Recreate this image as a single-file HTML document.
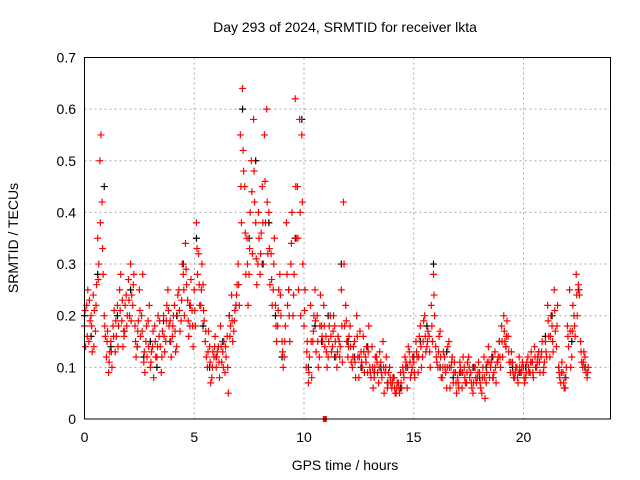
<!DOCTYPE html>
<html><head><meta charset="utf-8"><style>
body{margin:0;background:#fff}
svg{display:block;font-family:"Liberation Sans",sans-serif}
</style></head><body>
<svg id="chart" width="640" height="480">
<text x="345" y="32" font-size="14" text-anchor="middle">Day 293 of 2024, SRMTID for receiver lkta</text>
<text x="18" y="238" font-size="14" text-anchor="middle" transform="rotate(-90 18 238)">SRMTID / TECUs</text>
<text x="345" y="470" font-size="14" text-anchor="middle">GPS time / hours</text>
<g id="grid"></g><g id="marks"></g>
<rect x="84.5" y="57.5" width="526" height="361.5" fill="none" stroke="#000"/>
</svg>
<script>
const xTicks=[0,5,10,15,20];
const yTicks=[0,0.1,0.2,0.3,0.4,0.5,0.6,0.7];
const redA=[.18,.22,.15,.20,.24,.17,.35,.50,.42,.20,.12,.09,.15,.18,.13,.22,.25,.19,.16,.24,.27,.30,.22,.18,.14,.25,.20,.11,.15,.19,.10,.14,.18,.12,.16,.09,.20,.15,.25,.19,.16,.22,.14,.25,.19,.28,.34,.23,.18,.21,.25,.38,.32,.22,.26,.15,.10,.14,.08,.12,.10,.14,.18,.13,.09,.16,.20,.24,.17,.22,.30,.55,.64,.45,.35,.28,.50,.58,.38,.30,.28,.45,.55,.60,.40,.32,.25,.22,.18,.28,.15,.12,.38,.25,.30,.20,.62,.45,.58,.55,.18,.10,.07,.22,.15,.25,.20,.12,.18,.22,.16,.12,.20,.14,.18,.10,.15,.25,.42,.22,.12,.18,.10,.15,.20,.08,.13,.16,.12,.09,.10,.14,.08,.12,.07,.11,.15,.09,.06,.10,.06,.08,.05,.07,.09,.10,.12,.06,.13,.09,.11,.15,.09,.18,.12,.20,.14,.16,.22,.28,.14,.10,.17,.08,.12,.06,.15,.10,.07,.09,.08,.11,.06,.10,.07,.12,.09,.05,.10,.08,.09,.05,.12,.07,.14,.10,.08,.13,.11,.15,.18,.20,.14,.16,.09,.11,.08,.10,.12,.09,.10,.08,.12,.09,.11,.14,.10,.13,.12,.09,.15,.22,.12,.18,.25,.14,.10,.07,.09,.06,.18,.25,.12,.20,.28,.26,.15,.10,.12,.08];
const redB=[.14,.25,.19,.13,.21,.26,.30,.55,.28,.16,.17,.13,.10,.21,.16,.18,.28,.14,.22,.20,.20,.24,.28,.12,.19,.16,.28,.09,.12,.22,.13,.08,.12,.20,.14,.17,.13,.22,.18,.12,.20,.13,.24,.17,.30,.20,.26,.16,.27,.14,.18,.28,.22,.30,.19,.12,.17,.07,.13,.16,.13,.08,.11,.15,.12,.05,.18,.15,.21,.26,.22,.38,.48,.28,.22,.40,.32,.42,.26,.35,.36,.30,.38,.32,.26,.22,.35,.15,.25,.20,.10,.18,.22,.15,.40,.28,.35,.25,.20,.30,.25,.15,.12,.08,.20,.13,.10,.24,.15,.14,.10,.18,.13,.20,.12,.16,.14,.11,.18,.15,.16,.11,.14,.08,.12,.17,.10,.09,.14,.18,.08,.06,.12,.09,.13,.08,.05,.12,.09,.07,.08,.05,.07,.05,.06,.08,.11,.14,.08,.12,.08,.12,.16,.10,.19,.13,.17,.10,.15,.20,.11,.16,.08,.13,.09,.14,.06,.12,.11,.05,.06,.09,.12,.07,.11,.08,.06,.10,.07,.11,.06,.10,.04,.11,.08,.12,.09,.07,.12,.10,.12,.15,.19,.11,.13,.08,.10,.07,.09,.11,.07,.11,.09,.13,.08,.10,.12,.09,.15,.11,.12,.16,.20,.13,.17,.22,.08,.11,.06,.10,.14,.10,.22,.16,.20,.24,.11,.13,.09,.10];
const redC=[.21,.16,.23,.18,.14,.22,.27,.38,.33,.18,.15,.11,.13,.16,.19,.14,.21,.23,.17,.18,.23,.19,.26,.15,.17,.21,.17,.13,.18,.14,.11,.17,.15,.14,.19,.12,.16,.19,.21,.15,.18,.17,.20,.21,.23,.25,.29,.19,.22,.18,.21,.33,.26,.25,.21,.17,.13,.11,.10,.14,.12,.11,.14,.10,.14,.10,.16,.19,.19,.24,.26,.45,.52,.36,.30,.33,.44,.48,.31,.40,.32,.38,.46,.42,.33,.27,.30,.18,.21,.24,.13,.15,.28,.20,.34,.24,.45,.35,.40,.42,.21,.13,.09,.15,.17,.19,.15,.18,.16,.18,.13,.15,.16,.17,.15,.13,.12,.18,.30,.19,.14,.14,.12,.11,.16,.12,.11,.13,.11,.13,.09,.10,.10,.11,.10,.09,.10,.10,.07,.08,.07,.06,.06,.06,.07,.09,.10,.10,.11,.10,.09,.13,.12,.14,.15,.16,.15,.13,.18,.24,.12,.13,.12,.10,.10,.10,.10,.11,.09,.07,.07,.10,.09,.08,.09,.10,.07,.07,.08,.09,.07,.08,.08,.09,.11,.11,.08,.10,.11,.12,.15,.17,.16,.13,.11,.09,.09,.08,.10,.10,.08,.09,.10,.11,.09,.12,.11,.11,.13,.10,.13,.19,.16,.15,.21,.18,.09,.09,.07,.08,.16,.17,.17,.18,.24,.25,.13,.11,.10,.09];
const blackV=[.2,.16,.28,.45,.14,.2,.17,.25,.14,.12,.15,.1,.19,.15,.2,.3,.22,.35,.18,.1,.12,.15,.2,.22,.6,.35,.5,.3,.38,.2,.12,.25,.35,.58,.1,.18,.15,.2,.12,.3,.15,.12,.1,.14,.09,.1,.07,.08,.06,.1,.12,.15,.18,.3,.1,.13,.08,.09,.07,.1,.08,.1,.12,.15,.14,.1,.09,.1,.11,.13,.16,.2,.1,.08,.15,.25,.1];
const redStep=0.1, blackStep=0.3;
const X=h=>84.5+h*21.95, Y=v=>419-v*516.5;
const NS="http://www.w3.org/2000/svg";
const grid=document.getElementById('grid'), marks=document.getElementById('marks');
function mk(t,a,p){const e=document.createElementNS(NS,t);for(const k in a)e.setAttribute(k,a[k]);p.appendChild(e);return e;}
xTicks.forEach(t=>{const x=X(t);
 if(t>0){const g=mk('line',{x1:x,x2:x,y1:57.5,y2:419,stroke:'#aaa','stroke-dasharray':'2,3'},grid);
 
 }
 const l=mk('text',{x:x,y:442,'font-size':14,'text-anchor':'middle'},grid);l.textContent=t;
 
 });
yTicks.forEach(t=>{const y=Y(t);
 if(t>0&&t<0.7){const g=mk('line',{x1:84.5,x2:610.5,y1:y,y2:y,stroke:'#aaa','stroke-dasharray':'2,3'},grid);
 
 }
 const l=mk('text',{x:76,y:y+5,'font-size':14,'text-anchor':'end'},grid);l.textContent=t===0?'0':t.toFixed(1);
 
 });
function plus(h,v,c,name){const x=X(h),y=Y(v);
 const p=mk('path',{d:`M${x-3.5},${y}h7M${x},${y-3.5}v7`,stroke:c,'stroke-width':1.2,fill:'none'},marks);
 
 }
blackV.forEach((v,i)=>plus(i*blackStep,v,'#000','black-point'));
redA.forEach((v,i)=>plus(i*redStep,v,'#f00','red-point'));
redB.forEach((v,i)=>plus(i*redStep+0.05,v,'#f00','red-point'));
redC.forEach((v,i)=>plus(i*redStep+0.025,v,'#f00','red-point'));
const sq=mk('rect',{x:X(10.95)-2,y:416,width:4,height:6,fill:'#f00'},marks);


</script>
</body></html>
